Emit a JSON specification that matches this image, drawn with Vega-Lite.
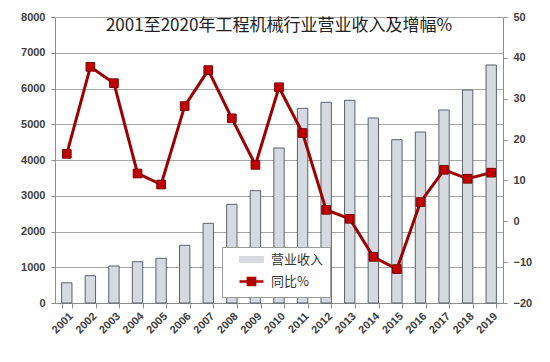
{
  "$schema": "https://vega.github.io/schema/vega-lite/v6.json",
  "width": 448,
  "height": 286,
  "autosize": {"type": "none"},
  "padding": {"left": 55, "top": 17, "right": 47, "bottom": 59},
  "background": "white",
  "title": {
    "text": "2001至2020年工程机械行业营业收入及增幅%",
    "font": "Noto Sans CJK SC",
    "fontSize": 17,
    "fontWeight": "normal",
    "color": "#222222",
    "offset": -24,
    "anchor": "middle"
  },
  "config": {
    "view": {"stroke": null},
    "axis": {
      "labelFont": "Liberation Sans",
      "labelFontWeight": "bold",
      "labelFontSize": 11,
      "labelColor": "#404040",
      "domainColor": "#8c8c8c",
      "tickColor": "#8c8c8c",
      "gridColor": "#a6a6a6",
      "title": null
    }
  },
  "data": {
    "values": [
      {"year": "2001", "revenue": 565, "growth": 16.5},
      {"year": "2002", "revenue": 764, "growth": 37.8},
      {"year": "2003", "revenue": 1035, "growth": 33.8},
      {"year": "2004", "revenue": 1155, "growth": 11.7},
      {"year": "2005", "revenue": 1250, "growth": 9.0},
      {"year": "2006", "revenue": 1614, "growth": 28.2},
      {"year": "2007", "revenue": 2229, "growth": 37.0},
      {"year": "2008", "revenue": 2760, "growth": 25.2},
      {"year": "2009", "revenue": 3142, "growth": 13.8},
      {"year": "2010", "revenue": 4336, "growth": 32.8},
      {"year": "2011", "revenue": 5446, "growth": 21.6},
      {"year": "2012", "revenue": 5614, "growth": 2.8},
      {"year": "2013", "revenue": 5670, "growth": 0.6},
      {"year": "2014", "revenue": 5175, "growth": -8.7},
      {"year": "2015", "revenue": 4568, "growth": -11.7},
      {"year": "2016", "revenue": 4783, "growth": 4.7},
      {"year": "2017", "revenue": 5399, "growth": 12.6},
      {"year": "2018", "revenue": 5958, "growth": 10.4},
      {"year": "2019", "revenue": 6657, "growth": 11.9}
    ]
  },
  "encoding": {
    "x": {
      "field": "year",
      "type": "ordinal",
      "scale": {"paddingInner": 0.56, "paddingOuter": 0.28},
      "axis": {
        "labelAngle": -45,
        "labelAlign": "right",
        "labelBaseline": "top",
        "tickBand": "extent",
        "tickSize": 5,
        "labelPadding": 2,
        "domainColor": "#8c8c8c"
      }
    }
  },
  "layer": [
    {
      "mark": {"type": "bar", "fill": "#d6d9e0", "stroke": "#5c616b", "strokeWidth": 1},
      "encoding": {
        "y": {
          "field": "revenue",
          "type": "quantitative",
          "scale": {"domain": [0, 8000]},
          "axis": {"values": [0,1000,2000,3000,4000,5000,6000,7000,8000], "format": "d", "grid": true, "tickSize": 4, "labelPadding": 6}
        },
        "color": {"datum": "营业收入", "type": "nominal",
          "scale": {"domain": ["营业收入", "同比%"], "range": ["#d6d9e0", "#b00000"]},
          "legend": {
            "orient": "none",
            "legendX": 167,
            "legendY": 230,
            "title": null,
            "fillColor": "white",
            "strokeColor": "#9a9a9a",
            "padding": 6,
            "rowPadding": 5,
            "labelFont": "Noto Sans CJK SC",
            "labelFontSize": 13,
            "labelColor": "#333333",
            "labelOffset": 13,
            "symbolSize": 576,
            "symbolOffset": 17,
            "symbolType": {"expr": "datum.value === '同比%' ? 'M-1,0H1M-0.3,-0.3H0.3V0.3H-0.3Z' : 'M-1,-0.25H1V0.25H-1Z'"},
            "symbolFillColor": {"expr": "datum.value === '同比%' ? '#c00000' : '#d6d9e0'"},
            "symbolStrokeColor": {"expr": "datum.value === '同比%' ? '#a00000' : '#5c616b'"},
            "symbolStrokeWidth": {"expr": "datum.value === '同比%' ? 2.5 : 1"},
            "symbolOpacity": 1,
            "encode": {
              "legend": {
                "update": {
                  "fill": {"value": "white"},
                  "stroke": {"value": "#9a9a9a"},
                  "strokeWidth": {"value": 1}
                }
              },
              "symbols": {
                "update": {
                  "size": {"value": 576},
                  "opacity": {"value": 1}
                }
              }
            }
          }
        }
      }
    },
    {
      "encoding": {
        "y": {
          "field": "growth",
          "type": "quantitative",
          "scale": {"domain": [-20, 50]},
          "axis": {"orient": "right", "values": [-20,-10,0,10,20,30,40,50], "grid": false, "tickSize": 4, "labelPadding": 6}
        }
      },
      "layer": [
        {
          "mark": {"type": "line", "stroke": "#9e0000", "strokeWidth": 3},
          "encoding": {
            "color": {"datum": "同比%", "type": "nominal"}
          }
        },
        {
          "mark": {"type": "point", "shape": "square", "filled": true, "fill": "#c00000", "stroke": "#7a0000", "strokeWidth": 1, "size": 75, "opacity": 1},
          "encoding": {}
        }
      ]
    }
  ],
  "resolve": {"scale": {"y": "independent"}}
}
